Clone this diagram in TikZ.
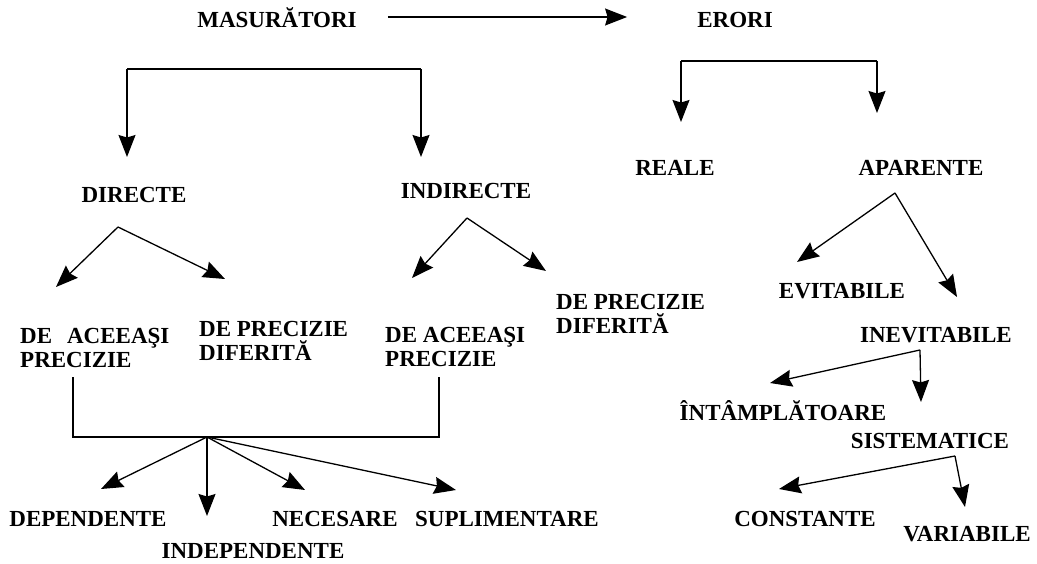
\documentclass[tikz,border=0pt]{standalone}
\usepackage{fontspec}
\setmainfont{Liberation Serif}
\usetikzlibrary{arrows.meta}

\begin{document}
\begin{tikzpicture}[x=1pt, y=-1pt,
    term/.style={font=\bfseries\fontsize{23}{25}\selectfont, inner sep=0pt, text height=15pt, text depth=0pt},
    pair/.style={font=\bfseries\fontsize{23}{24.5}\selectfont, inner sep=0pt, align=left, anchor=north west},
    link/.style={line width=1.3pt},
    arr/.style={link, -{Stealth[length=22pt, width=17pt, inset=2.5pt]}}]
    \useasboundingbox (0,0) rectangle (1037,564);

    % Top row
    \node[term] (masur) at (277,20) {MASURĂTORI};
    \node[term] (erori) at (735,20) {ERORI};
    \draw[arr, shorten <=31pt, shorten >=70pt] ([yshift=3pt]masur.east) -- ([yshift=3pt]erori.west);

    % Kinds of measurements
    \node[term] (directe) at (134,195) {DIRECTE};
    \node[term] (indirecte) at (466,191) {INDIRECTE};
    \node[pair] (dacc1) at (20,328) {DE\hspace{15pt}ACEEAŞI\\PRECIZIE};
    \node[pair] (dprec1) at (199,321) {DE PRECIZIE\\DIFERITĂ};
    \node[pair] (dacc2) at (385,327) {DE ACEEAŞI\\PRECIZIE};
    \node[pair] (dprec2) at (556,294) {DE PRECIZIE\\DIFERITĂ};

    % Kinds of errors
    \node[term] (reale) at (675,168) {REALE};
    \node[term] (aparente) at (921,168) {APARENTE};
    \node[term] (evitabile) at (842,291) {EVITABILE};
    \node[term] (inevitabile) at (936,335) {INEVITABILE};
    \node[term] (intampl) at (783,413) {ÎNTÂMPLĂTOARE};
    \node[term] (sistematice) at (930,441) {SISTEMATICE};
    \node[term] (constante) at (805,519) {CONSTANTE};
    \node[term] (variabile) at (967,534) {VARIABILE};

    % Bottom row
    \node[term] (dependente) at (88,519) {DEPENDENTE};
    \node[term] (independente) at (253,551) {INDEPENDENTE};
    \node[term] (necesare) at (335,519) {NECESARE};
    \node[term] (suplimentare) at (507,519) {SUPLIMENTARE};

    % Branch points and arrow ends
    \foreach \n/\x/\y in {m-l/127/69, m-r/421/69, m-lt/127/157, m-rt/421/157,
                          e-l/681/61, e-r/877/61, e-lt/681/122, e-rt/877/113,
                          d-s/118/227, d-lt/56/287, d-rt/225/279,
                          i-s/467/218, i-lt/412/278, i-rt/546/271,
                          a-s/895/193, a-lt/797/262, a-rt/957/297,
                          n-s/920/350, n-lt/770/383, n-rt/921/402,
                          s-s/955/456, s-lt/779/489, s-rt/965/507,
                          b-l/73/377, b-r/439/377, b-bl/73/437, b-br/439/437,
                          b-s/207/437, b-t1/101/489, b-t2/207/516, b-t3/305/490, b-t4/456/490}
        \coordinate (\n) at (\x,\y);

    % Brackets
    \draw[link] (m-l) -- (m-r);
    \draw[arr] (m-l) -- (m-lt);
    \draw[arr] (m-r) -- (m-rt);
    \draw[link] (e-l) -- (e-r);
    \draw[arr] (e-l) -- (e-lt);
    \draw[arr] (e-r) -- (e-rt);
    \draw[link] (b-l) -- (b-bl) -- (b-br) -- (b-r);

    % Forks
    \foreach \s in {d, i, a, n, s} {
        \draw[arr] (\s-s) -- (\s-lt);
        \draw[arr] (\s-s) -- (\s-rt);
    }
    \foreach \t in {1,...,4}
        \draw[arr] (b-s) -- (b-t\t);

\end{tikzpicture}
\end{document}
